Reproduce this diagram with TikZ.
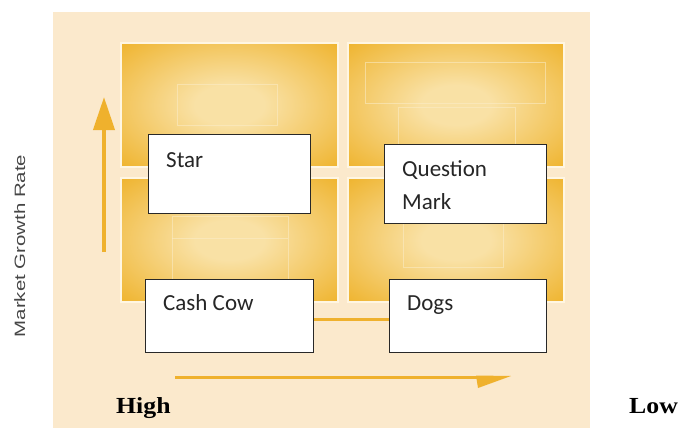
\documentclass[tikz,border=0pt]{standalone}
\usepackage{fontspec}
\usepackage{graphicx}
\newfontfamily\boxfont{Carlito}
\newfontfamily\axisfont{Liberation Sans}
\newfontfamily\hlfont{Liberation Serif}
\usetikzlibrary{arrows.meta}
\definecolor{bgpeach}{RGB}{251,233,204}
\definecolor{qin}{RGB}{249,225,165}
\definecolor{qout}{RGB}{238,176,36}
\definecolor{arrowc}{RGB}{239,177,45}
\definecolor{qline}{RGB}{255,246,226}
\definecolor{boxline}{RGB}{40,40,40}
\definecolor{axisgray}{RGB}{70,70,70}
\pgfdeclareradialshading{quadshade}{\pgfpoint{0bp}{0bp}}{color(0bp)=(qin); color(8bp)=(qin); color(38bp)=(qout); color(100bp)=(qout)}
\pgfdeclarelayer{bg}
\pgfdeclarelayer{mid}
\pgfsetlayers{bg,mid,main}
\tikzset{
  quad/.style={shading=quadshade, draw=qline, line width=2pt},
  faint/.style={draw=qin!60!white, line width=1pt, opacity=0.55},
  box/.style={draw=boxline, line width=1.2pt, fill=white, inner sep=0pt, anchor=north west},
  lbl/.style={inner sep=0pt, font=\boxfont\fontsize{23}{33}\selectfont, text=black!85, align=left},
  axlbl/.style={inner sep=0pt, font=\hlfont\bfseries\fontsize{23}{26}\selectfont, text=black},
}
\begin{document}
\begin{tikzpicture}[x=1pt,y=-1pt]
\useasboundingbox (0,0) rectangle (678,428);
\begin{pgfonlayer}{bg}
\fill[white] (0,0) rectangle (678,428);
\fill[bgpeach] (53,12) rectangle (590,428);
% quadrants
\path[quad] (121,43) rectangle (338,167);
\path[quad] (348,43) rectangle (564,167);
\path[quad] (121,178) rectangle (338,302);
\path[quad] (348,178) rectangle (564,302);
% faint inner shapes
\draw[faint] (177,85) rectangle (277,125);
\draw[faint] (365,63) rectangle (545,104);
\draw[faint] (398,150) -- (398,108) -- (515,108) -- (515,150);
\draw[faint] (172,300) -- (172,216) -- (288,216) -- (288,300);
\draw[faint] (172,238) -- (288,238);
\draw[faint] (403,223) rectangle (503,267);
\end{pgfonlayer}
% boxes
\node[box, minimum width=162pt, minimum height=79pt] (star) at (148,134) {};
\node[box, minimum width=162pt, minimum height=79pt] (qmark) at (384,144) {};
\node[box, minimum width=168pt, minimum height=73pt] (cash) at (145,279) {};
\node[box, minimum width=157pt, minimum height=73pt] (dogs) at (389,279) {};
% connector between bottom boxes (behind them)
\begin{pgfonlayer}{mid}
\draw[arrowc, line width=3pt] (cash.east |- 0,319) -- (dogs.west |- 0,319);
\end{pgfonlayer}
% labels
\node[lbl, anchor=base west] (startxt) at ([xshift=18pt,yshift=-33pt]star.north west) {Star};
\node[lbl, anchor=north west] (qtxt) at ([xshift=18pt,yshift=-16pt]qmark.north west) {Question\\Mark};
\node[lbl, anchor=base west] (cashtxt) at ([xshift=18pt,yshift=-31pt]cash.north west) {Cash Cow};
\node[lbl, anchor=base west] (dogstxt) at ([xshift=18pt,yshift=-31pt]dogs.north west) {Dogs};
% axes arrows
\coordinate (upstart) at (104,252);
\coordinate (upend) at (104,97);
\draw[arrowc, line width=4pt, -{Triangle[width=21pt,length=33pt]}] (upstart) -- (upend);
\coordinate (rstart) at (175,377);
\coordinate (rend) at (478,377);
\draw[arrowc, line width=3pt] (rstart) -- (rend);
\fill[arrowc] (511,376) -- (476,375.5) -- (478,388) -- cycle;
% axis texts
\node[inner sep=0pt, rotate=90, anchor=base, text=axisgray, font=\axisfont\fontsize{15}{18}\selectfont] (mgr) at (25,246) {\scalebox{1.36}[1]{Market Growth Rate}};
\node[axlbl, anchor=base west] (high) at (116,413) {\scalebox{1.12}[1]{High}};
\node[axlbl, anchor=base west] (low) at (629,413) {\scalebox{1.12}[1]{Low}};
\end{tikzpicture}
\end{document}
